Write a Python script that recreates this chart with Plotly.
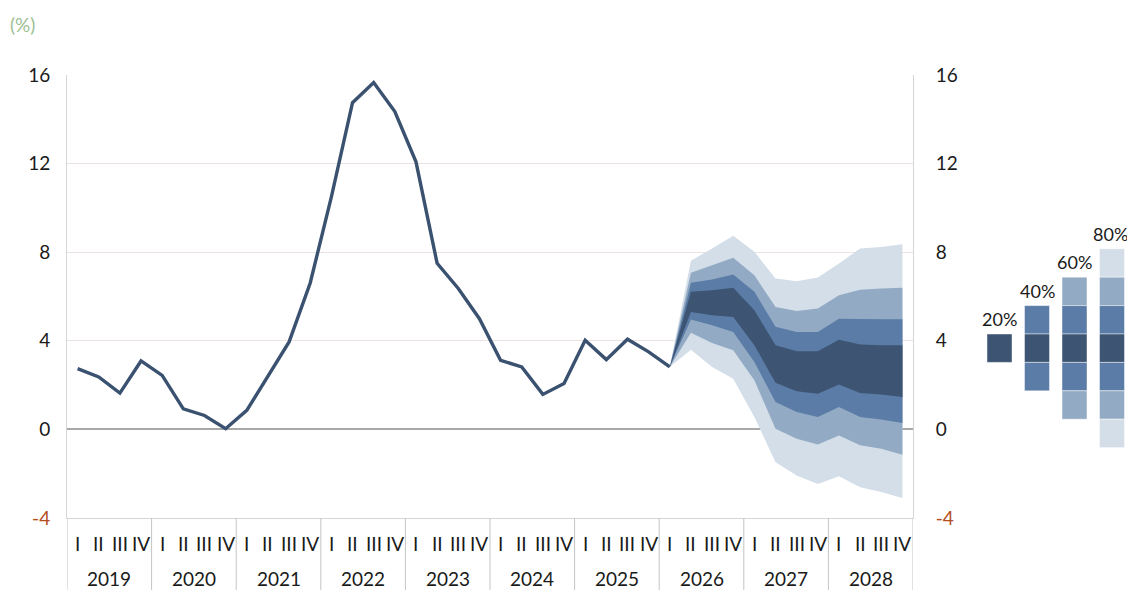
import plotly.graph_objects as go

# Quarterly axis categories
years = [str(y) for y in range(2019, 2029)]
quarters = ["I", "II", "III", "IV"]

# Observed series, 2019 Q1 .. 2026 Q1 (%)
actual = [2.74, 2.37, 1.64, 3.09, 2.44, 0.93, 0.63, 0.03,
          0.86, 2.40, 3.95, 6.61, 10.50, 14.75, 15.66, 14.35,
          12.08, 7.50, 6.36, 5.00, 3.12, 2.82, 1.58, 2.07,
          4.02, 3.15, 4.07, 3.50, 2.82]

# Fan chart bounds, 2026 Q1 .. 2028 Q4 (%)
lo80 = [2.82, 3.60, 2.82, 2.29, 0.56, -1.48, -2.08, -2.46, -2.12, -2.61, -2.83, -3.10]
lo60 = [2.82, 4.36, 3.90, 3.57, 2.22, 0.03, -0.42, -0.68, -0.27, -0.72, -0.87, -1.15]
lo40 = [2.82, 4.96, 4.70, 4.40, 3.04, 1.24, 0.78, 0.56, 1.01, 0.56, 0.45, 0.29]
lo20 = [2.82, 5.30, 5.15, 5.08, 3.80, 2.11, 1.72, 1.61, 2.03, 1.64, 1.58, 1.46]
hi20 = [2.82, 6.21, 6.28, 6.39, 5.38, 3.80, 3.53, 3.53, 4.05, 3.83, 3.80, 3.80]
hi40 = [2.82, 6.62, 6.77, 6.99, 6.21, 4.63, 4.40, 4.40, 5.00, 4.97, 4.97, 4.97]
hi60 = [2.82, 7.07, 7.41, 7.75, 6.96, 5.53, 5.35, 5.46, 6.06, 6.31, 6.36, 6.39]
hi80 = [2.82, 7.61, 8.17, 8.74, 8.02, 6.81, 6.69, 6.86, 7.49, 8.17, 8.24, 8.36]

band_labels = ["20%", "40%", "60%", "80%"]
band_colors = ["#3d5472", "#5a7ca6", "#93aac4", "#d3dee8"]

y_ticks = [-4, 0, 4, 8, 12, 16]

FONT = "Lato"
W, H = 1127, 590
ML, MR, MT, MB = 67, 214, 75, 72
PW, PH = W - ML - MR, H - MT - MB

n_q = len(years) * len(quarters)
qx = list(range(n_q))
start = len(actual) - 1
fan_x = qx[start:]

fig = go.Figure()

bands = [(lo80, hi80), (lo60, hi60), (lo40, hi40), (lo20, hi20)]
for (lo, hi), color, label in zip(bands, band_colors[::-1], band_labels[::-1]):
    fig.add_trace(go.Scatter(x=fan_x, y=lo, mode="lines", line=dict(width=0, color=color),
                             showlegend=False, hoverinfo="skip"))
    fig.add_trace(go.Scatter(x=fan_x, y=hi, mode="lines", line=dict(width=0, color=color),
                             fill="tonexty", fillcolor=color, name=label, showlegend=False))

fig.add_trace(go.Scatter(x=qx[:len(actual)], y=actual, mode="lines",
                         line=dict(color="#3a5270", width=3.4), showlegend=False))

# empty trace carrying the right-hand axis
fig.add_trace(go.Scatter(x=[None], y=[None], yaxis="y2", showlegend=False, hoverinfo="skip"))

tick_text = [f'<span style="color:#b34e1c">{v}</span>' if v < 0 else str(v) for v in y_ticks]
axis_common = dict(range=[-4, 16], tickvals=y_ticks, ticktext=tick_text, ticks="",
                   tickfont=dict(family=FONT, size=19, color="#1a1a1a"),
                   showline=True, linecolor="#d6d6d6", linewidth=1)

fig.update_layout(
    width=W, height=H,
    margin=dict(l=ML, r=MR, t=MT, b=MB),
    paper_bgcolor="white", plot_bgcolor="white",
    font=dict(family=FONT, size=19, color="#1a1a1a"),
    xaxis=dict(range=[-0.5, n_q - 0.5], showgrid=False, zeroline=False, ticks="",
               showticklabels=False, showline=True, linecolor="#d6d6d6", linewidth=1),
    yaxis=dict(**axis_common, side="left", showgrid=True, gridcolor="#ebe2e2", gridwidth=1,
               zeroline=True, zerolinecolor="#a8a8a8", zerolinewidth=1.5,
               ticklabelstandoff=12),
    yaxis2=dict(**axis_common, side="right", overlaying="y", showgrid=False, zeroline=False,
                ticklabelstandoff=18),
)


def px_x(p):
    return (p - ML) / PW


def px_y(p):
    return (H - MB - p) / PH


shapes, annots = [], []

# two-level category labels under the plot, with year dividers
for i in range(n_q):
    annots.append(dict(text=quarters[i % 4], xref="x", yref="paper", x=i, y=px_y(543),
                       xanchor="center", yanchor="middle", showarrow=False,
                       font=dict(family=FONT, size=19, color="#1a1a1a")))
for k, yr in enumerate(years):
    annots.append(dict(text=yr, xref="x", yref="paper", x=4 * k + 1.5, y=px_y(578),
                       xanchor="center", yanchor="middle", showarrow=False,
                       font=dict(family=FONT, size=19, color="#1a1a1a")))
for k in range(len(years) + 1):
    shapes.append(dict(type="line", xref="x", yref="paper", x0=4 * k - 0.5, x1=4 * k - 0.5,
                       y0=0, y1=px_y(H), line=dict(color="#c4c4c4", width=1)))

# fan legend: stacked colour cells per probability band
cell_w, cell_h = 25, 28.4
col_gap = 37.5
first_cx = 999.5
mid_cy = 348.2
for k, label in enumerate(band_labels):
    cx = first_cx + k * col_gap
    for r in range(-k, k + 1):
        cy = mid_cy + r * cell_h
        shapes.append(dict(type="rect", xref="paper", yref="paper", layer="above",
                           x0=px_x(cx - cell_w / 2), x1=px_x(cx + cell_w / 2),
                           y0=px_y(cy + cell_h / 2), y1=px_y(cy - cell_h / 2),
                           fillcolor=band_colors[abs(r)],
                           line=dict(color="rgba(255,255,255,0.45)", width=1)))
    top = mid_cy - (k + 0.5) * cell_h
    annots.append(dict(text=label, xref="paper", yref="paper", x=px_x(min(cx, 1110)),
                       y=px_y(top - 15), xanchor="center", yanchor="middle", showarrow=False,
                       font=dict(family=FONT, size=18, color="#1a1a1a")))

annots.append(dict(text="(%)", xref="paper", yref="paper", x=px_x(8), y=px_y(25),
                   xanchor="left", yanchor="middle", showarrow=False,
                   font=dict(family=FONT, size=19, color="#9cbf94")))

fig.update_layout(shapes=shapes, annotations=annots)
fig.write_html("out.html")
